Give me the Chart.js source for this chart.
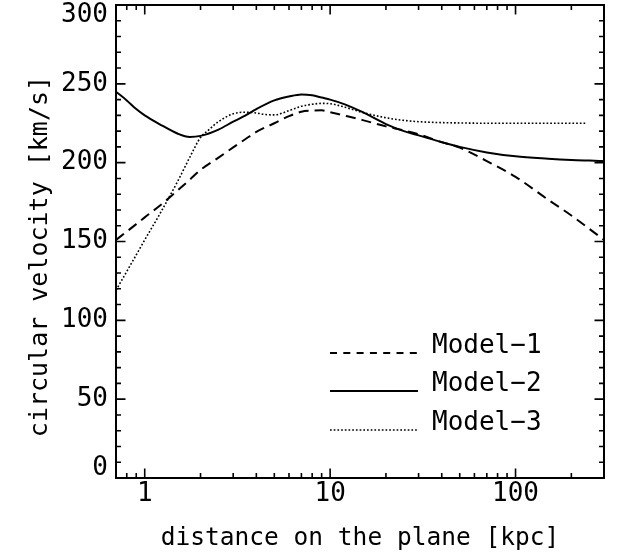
<!DOCTYPE html>
<html><head><meta charset="utf-8">
<script src="https://cdn.jsdelivr.net/npm/chart.js@4.4.0/dist/chart.umd.min.js"></script>
<style>html,body{margin:0;padding:0;background:#fff;} #wrap{width:619px;height:558px;}</style>
</head><body><div id="wrap"><canvas id="c" width="619" height="558"></canvas></div>
<script>
const xDistance = [0.7,0.8,0.9,1,1.2,1.5,1.75,2,2.5,3,3.5,4,5,6,7,8,9,10,12,15,20,25,30,40,50,70,100,150,200,250,300];
const model1 = [151,156.3,161,165.3,172.5,182.2,189.2,195.4,203.2,209.7,215,219.5,225,229.5,232.3,233,233.2,232,229.8,227,223,220.5,218,213,209.5,201,191,176.5,166.5,158,151];
const model2 = [245,239.5,234,230,224.5,218.5,216.3,217,221,226,230,234,239.5,242,243.3,242.8,241.3,240,237,232,224.5,220,217.3,213,210,206.5,204,202.5,201.7,201.3,201];
const xModel3 = [0.7,0.8,0.9,1,1.2,1.5,1.75,2,2.2,2.5,3,3.5,4,4.5,5,6,7,8,9,10,12,15,20,25,30,40,50,70,100,150,200,240];
const model3 = [119,131,141.5,151,167,187.8,203.4,216,220.5,226,231,232,231.5,230.5,230.3,233,235.8,237,237.6,237.4,235.2,231.8,228.5,226.8,226,225.4,225.2,225,225,225,225,225];
const seriesLabels = ['Model\u22121','Model\u22122','Model\u22123'];
const xTickLabels = [1,10,100];
const yTickLabels = [0,50,100,150,200,250,300];
const xMinorTicks = [0.8,0.9,2,3,4,5,6,7,8,9,20,30,40,50,60,70,80,90,200,300];
const yMinorTicks = [10,20,30,40,60,70,80,90,110,120,130,140,160,170,180,190,210,220,230,240,260,270,280,290];

const FONT = "'DejaVu Sans Mono', monospace";
const toXY = (xs, ys) => xs.map((v, i) => ({x: v, y: ys[i]}));

const framePlugin = {
  id: 'frameTicks',
  afterDraw(chart) {
    const {ctx, chartArea: a, scales} = chart;
    const sx = scales.x, sy = scales.y;
    ctx.save();
    ctx.strokeStyle = '#000';
    ctx.lineWidth = 1.6;
    ctx.beginPath();
    const xt = (v, len) => {
      const p = sx.getPixelForValue(v);
      ctx.moveTo(p, a.bottom); ctx.lineTo(p, a.bottom - len);
      ctx.moveTo(p, a.top); ctx.lineTo(p, a.top + len);
    };
    const yt = (v, len) => {
      const p = sy.getPixelForValue(v);
      ctx.moveTo(a.left, p); ctx.lineTo(a.left + len, p);
      ctx.moveTo(a.right, p); ctx.lineTo(a.right - len, p);
    };
    xTickLabels.forEach(v => xt(v, 9.5));
    xMinorTicks.forEach(v => xt(v, 5));
    yTickLabels.forEach(v => yt(v, 9.5));
    yMinorTicks.forEach(v => yt(v, 5));
    ctx.stroke();
    ctx.lineWidth = 2;
    ctx.strokeRect(a.left, a.top, a.right - a.left, a.bottom - a.top);

    // legend
    const base = [353, 391, 430];
    ctx.font = '26px ' + FONT;
    ctx.fillStyle = '#000';
    ctx.textAlign = 'left';
    ctx.textBaseline = 'alphabetic';
    chart.data.datasets.forEach((ds, i) => {
      ctx.beginPath();
      ctx.lineWidth = ds.borderWidth;
      ctx.setLineDash(ds.legendDash || ds.borderDash || []);
      ctx.moveTo(330, base[i]);
      ctx.lineTo(418, base[i]);
      ctx.stroke();
      ctx.setLineDash([]);
      ctx.fillText(ds.label, 432, base[i]);
    });
    ctx.restore();
  }
};

new Chart(document.getElementById('c'), {
  type: 'line',
  data: {
    datasets: [
      {label: seriesLabels[0], data: toXY(xDistance, model1), borderColor: '#000', borderWidth: 2, borderDash: [10, 6], legendDash: [7, 6.3], pointRadius: 0, cubicInterpolationMode: 'monotone', fill: false},
      {label: seriesLabels[1], data: toXY(xDistance, model2), borderColor: '#000', borderWidth: 2, pointRadius: 0, cubicInterpolationMode: 'monotone', fill: false},
      {label: seriesLabels[2], data: toXY(xModel3, model3), borderColor: '#000', borderWidth: 1.6, borderDash: [1.7, 2], pointRadius: 0, cubicInterpolationMode: 'monotone', fill: false}
    ]
  },
  options: {
    responsive: false,
    animation: false,
    layout: {padding: {left: 0, right: 15, top: 5, bottom: 0}},
    plugins: {legend: {display: false}, tooltip: {enabled: false}},
    scales: {
      x: {
        type: 'logarithmic', position: 'bottom', min: 0.7, max: 300,
        grid: {display: false, drawTicks: false}, border: {display: false},
        ticks: {
          autoSkip: false, maxRotation: 0, minRotation: 0, padding: 1,
          color: '#000', font: {family: FONT, size: 26},
          callback: (v) => xTickLabels.some(t => Math.abs(t - v) < 1e-9) ? String(v) : ''
        },
        title: {display: true, text: 'distance on the plane [kpc]', color: '#000', font: {family: FONT, size: 24.5}, padding: {top: 0, bottom: 5}},
        afterFit: (s) => { s.height = 80; s.paddingLeft = 0; s.paddingRight = 0; }
      },
      y: {
        type: 'linear', min: 0, max: 300,
        grid: {display: false, drawTicks: false}, border: {display: false},
        ticks: {
          stepSize: 50, padding: 8, color: '#000', font: {family: FONT, size: 26, lineHeight: 0.77},
          callback: (v) => v === 300 ? ['', '300'] : (v === 0 ? ['0', ''] : String(v))
        },
        title: {display: true, text: 'circular velocity [km/s]  ', color: '#000', font: {family: FONT, size: 25}, padding: {top: 25, bottom: 0}},
        afterFit: (s) => { s.width = 116; s.paddingTop = 0; s.paddingBottom = 0; }
      }
    }
  },
  plugins: [framePlugin]
});
</script>
</body></html>
